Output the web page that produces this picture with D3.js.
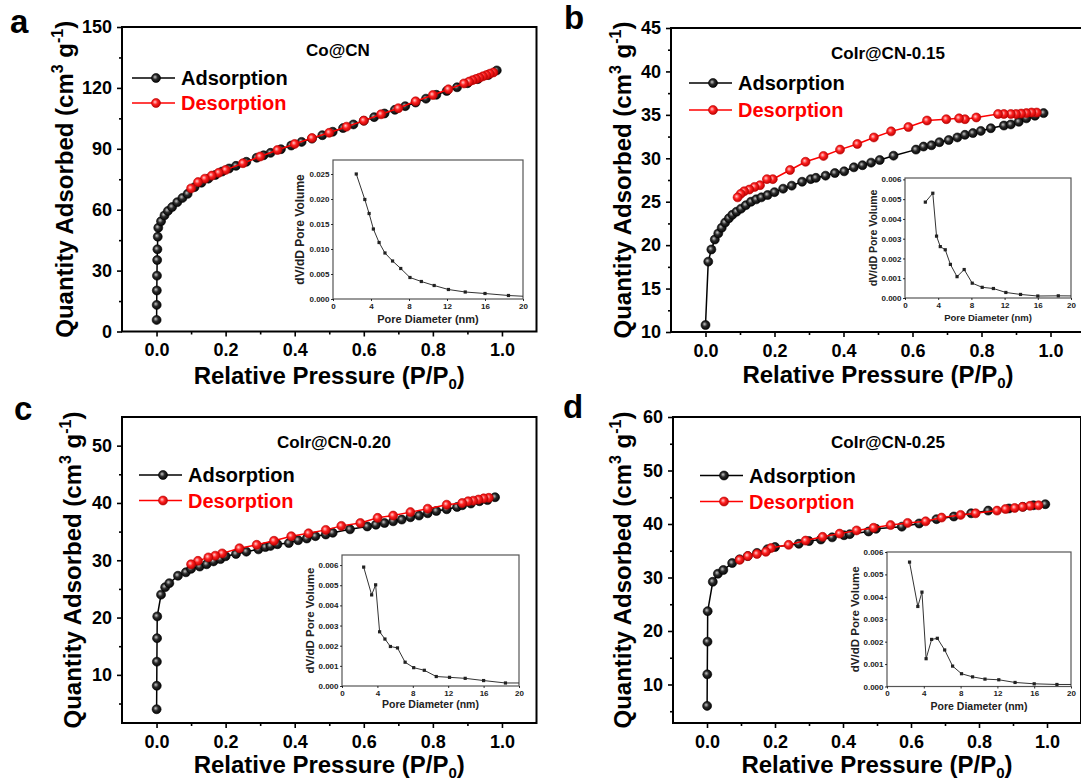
<!DOCTYPE html>
<html>
<head>
<meta charset="utf-8">
<script src="https://cdn.jsdelivr.net/npm/d3@7"></script>
<style>
  body { margin: 0; background: #fff; }
  svg { display: block; font-family: Arial, "Liberation Sans", sans-serif; }
</style>
</head>
<body>
<div id="chart"></div>
<script>
// ---- isotherm data (P/P0, cm3 g-1) ----
const adsA_P = [0.0002,0.0005,0.0008,0.0012,0.0018,0.0025,0.0035,0.005,0.013,0.023,0.033,0.045,0.06,0.075,0.09,0.11,0.13,0.15,0.17,0.19,0.21,0.23,0.26,0.29,0.31,0.33,0.36,0.39,0.42,0.45,0.48,0.51,0.54,0.57,0.6,0.63,0.66,0.69,0.72,0.75,0.78,0.81,0.84,0.87,0.9,0.93,0.96,0.985];
const adsA_Q = [5.7,13.1,20.2,27.5,35.2,40.5,46.7,51.1,54.3,57.2,59.4,61.3,63.7,65.8,67.8,71.1,73.3,75.3,77.1,78.8,80.3,81.6,83.6,85.6,86.8,88.0,89.8,91.6,93.4,95.0,96.7,98.4,100.2,102.0,103.8,105.6,107.4,109.2,111.0,112.8,114.7,116.6,118.5,120.3,122.3,124.3,126.3,128.6];
const desA_P = [0.975,0.965,0.955,0.945,0.935,0.925,0.915,0.905,0.89,0.845,0.8,0.75,0.7,0.65,0.6,0.55,0.5,0.45,0.4,0.35,0.3,0.25,0.2,0.18,0.16,0.14,0.12,0.1];
const desA_Q = [127.6,127.0,126.3,125.7,125.0,124.4,123.8,123.1,122.2,119.3,116.5,113.4,110.0,107.0,103.9,100.9,97.9,95.3,92.4,89.4,86.2,82.9,79.6,78.2,76.8,75.3,73.6,70.5];

const adsB_P = [0.0,0.008,0.017,0.027,0.037,0.047,0.057,0.068,0.078,0.09,0.103,0.117,0.132,0.147,0.162,0.18,0.2,0.225,0.25,0.28,0.305,0.32,0.348,0.375,0.402,0.43,0.455,0.48,0.505,0.545,0.61,0.632,0.655,0.678,0.705,0.73,0.752,0.775,0.798,0.827,0.865,0.885,0.908,0.93,0.955,0.98];
const adsB_Q = [10.8,18.1,19.5,20.65,21.35,22.0,22.6,23.1,23.5,23.85,24.2,24.6,25.0,25.27,25.5,25.77,26.1,26.5,26.85,27.3,27.6,27.75,28.0,28.3,28.5,28.96,29.2,29.5,29.8,30.3,31.0,31.35,31.5,31.85,32.1,32.4,32.7,32.9,33.15,33.46,33.77,33.9,34.2,34.6,34.9,35.2];
const desB_P = [0.96,0.945,0.93,0.915,0.9,0.885,0.865,0.848,0.785,0.752,0.735,0.698,0.642,0.588,0.538,0.488,0.44,0.39,0.342,0.29,0.245,0.195,0.178,0.158,0.142,0.127,0.112,0.102,0.093];
const desB_Q = [35.27,35.27,35.2,35.15,35.1,35.1,35.1,35.1,34.7,34.5,34.6,34.5,34.35,33.6,33.1,32.4,31.65,31.0,30.27,29.6,28.65,27.6,27.6,26.9,26.7,26.4,26.2,25.9,25.5];

const adsC_P = [0.0002,0.0006,0.001,0.0015,0.002,0.013,0.025,0.037,0.062,0.085,0.1,0.125,0.145,0.165,0.185,0.2,0.23,0.26,0.295,0.315,0.33,0.35,0.383,0.41,0.435,0.46,0.49,0.51,0.56,0.61,0.635,0.66,0.685,0.71,0.735,0.76,0.785,0.81,0.84,0.87,0.885,0.91,0.935,0.958,0.98];
const adsC_Q = [4.0,8.1,12.3,16.4,20.2,24.0,25.3,26.0,27.3,27.9,28.5,28.9,29.3,29.8,30.2,30.7,31.1,31.5,31.9,32.3,32.5,32.8,33.0,33.5,33.8,34.2,34.5,34.8,35.4,35.9,36.2,36.5,36.8,37.1,37.5,37.8,38.2,38.6,38.9,39.3,39.6,39.9,40.3,40.5,41.0];
const desC_P = [0.962,0.947,0.932,0.917,0.902,0.885,0.84,0.785,0.735,0.685,0.64,0.59,0.535,0.49,0.44,0.39,0.34,0.29,0.24,0.19,0.17,0.15,0.12,0.1];
const desC_Q = [40.9,40.8,40.6,40.4,40.3,40.0,39.7,39.0,38.4,37.8,37.4,36.5,36.0,35.3,34.7,34.2,33.4,32.7,32.1,31.2,30.8,30.5,29.9,29.3];

const adsD_P = [0.0003,0.0008,0.0015,0.002,0.017,0.032,0.048,0.074,0.096,0.12,0.147,0.178,0.2,0.27,0.3,0.335,0.368,0.403,0.42,0.475,0.497,0.573,0.624,0.675,0.726,0.777,0.827,0.888,0.929,0.96,0.995];
const adsD_Q = [6.0,11.9,18.0,23.7,29.2,30.7,31.4,32.7,33.4,34.0,34.6,35.3,35.7,36.3,36.8,37.1,37.5,37.9,38.1,38.6,39.1,39.5,40.1,40.9,41.4,42.0,42.5,42.9,43.2,43.5,43.7];
const desD_P = [0.975,0.95,0.928,0.905,0.878,0.853,0.79,0.746,0.69,0.643,0.59,0.54,0.49,0.44,0.39,0.34,0.29,0.24,0.188,0.173,0.147,0.12,0.096];
const desD_Q = [43.5,43.4,43.2,43.0,42.8,42.5,42.0,41.7,41.2,40.5,40.2,39.8,39.3,38.8,38.2,37.6,36.9,36.1,35.5,34.8,34.4,34.0,33.3];

// ---- pore size distributions (insets), last point lies past 20 nm and is clipped ----
const poreDiam = [2.45,3.35,3.8,4.25,4.85,5.47,6.27,7.13,8.1,9.3,10.65,12.15,13.92,16.0,18.47,21.6];
const psdA = [0.0250,0.0199,0.0171,0.0140,0.0113,0.0092,0.0076,0.0061,0.0043,0.0035,0.0027,0.0019,0.0014,0.0011,0.0007,0.0004];
const psdB = [0.00485,0.0053,0.00313,0.0026,0.00244,0.0017,0.00108,0.00144,0.00075,0.00054,0.00048,0.00028,0.00018,0.0001,0.00011,0.0001];
const psdC = [0.0059,0.00452,0.00502,0.00269,0.00233,0.00196,0.00189,0.00118,0.00091,0.00078,0.00047,0.00043,0.00038,0.00027,0.00015,0.00015];
const psdD = [0.00555,0.00357,0.00421,0.00124,0.0021,0.00215,0.00163,0.00091,0.00057,0.00043,0.00033,0.0003,0.00018,0.00012,0.00009,0.00009];

// ---- tick values ----
const xTicksMain = [0, 0.2, 0.4, 0.6, 0.8, 1.0];
const xMinorMain = [0.1, 0.3, 0.5, 0.7, 0.9];
const yTicksA = [0, 30, 60, 90, 120, 150], yMinorA = [15, 45, 75, 105, 135];
const yTicksB = [10, 15, 20, 25, 30, 35, 40, 45], yMinorB = [12.5, 17.5, 22.5, 27.5, 32.5, 37.5, 42.5];
const yTicksC = [10, 20, 30, 40, 50], yMinorC = [5, 15, 25, 35, 45];
const yTicksD = [10, 20, 30, 40, 50, 60], yMinorD = [5, 15, 25, 35, 45, 55];
const xTicksInset = [0, 4, 8, 12, 16, 20];
const yTicksInsetA = [0, 0.005, 0.010, 0.015, 0.020, 0.025];
const yTicksInsetB = [0, 0.001, 0.002, 0.003, 0.004, 0.005, 0.006];

const W = 1081, H = 782;
const svg = d3.select("#chart").append("svg")
  .attr("width", W)
  .attr("height", H);
const defs = svg.append("defs");

// shiny ball markers
function ball(id, hi, mid, lo) {
  const gr = defs.append("radialGradient").attr("id", id)
    .attr("cx", "45%").attr("cy", "45%").attr("r", "60%")
    .attr("fx", "38%").attr("fy", "38%");
  gr.append("stop").attr("offset", "0%").attr("stop-color", hi);
  gr.append("stop").attr("offset", "45%").attr("stop-color", mid);
  gr.append("stop").attr("offset", "100%").attr("stop-color", lo);
}
ball("ballBlack", "#c8c8c8", "#2a2a2a", "#000");
ball("ballRed", "#ffd0d0", "#ff2020", "#b00000");

const panels = [
  { letter: "a", lx: 10, ly: 33, name: "Co@CN", x0: 122, x1: 536.5, y0: 27, y1: 331.5, yDomain: [0, 150],
    yTicks: yTicksA, yMinor: yMinorA, yTitleX: 73, xTitleY: 384, titleX: 338, titleY: 56,
    legX: 132, legY1: 78, legY2: 103, ads: [adsA_P, adsA_Q], des: [desA_P, desA_Q],
    inset: { x0: 333, x1: 523, y0: 160, y1: 299, yDomain: [0, 0.0278], yTicks: yTicksInsetA, psd: psdA,
      tickFont: 8, titleFont: 11, yTitleX: 304, xTickY: 311, xTitleY: 323 } },
  { letter: "b", lx: 564, ly: 29, name: "CoIr@CN-0.15", x0: 671, x1: 1085, y0: 28, y1: 332, yDomain: [10, 45],
    yTicks: yTicksB, yMinor: yMinorB, yTitleX: 631, xTitleY: 383, titleX: 888, titleY: 59,
    legX: 689, legY1: 83, legY2: 110, ads: [adsB_P, adsB_Q], des: [desB_P, desB_Q],
    inset: { x0: 905, x1: 1071, y0: 178, y1: 298, yDomain: [0, 0.00607], yTicks: yTicksInsetB, psd: psdB,
      tickFont: 8, titleFont: 9.5, yTitleX: 877, xTickY: 309, xTitleY: 321 } },
  { letter: "c", lx: 14, ly: 420, name: "CoIr@CN-0.20", x0: 122, x1: 536.5, y0: 417, y1: 723, yDomain: [1.6, 55],
    yTicks: yTicksC, yMinor: yMinorC, yTitleX: 81, xTitleY: 773, titleX: 334, titleY: 448,
    legX: 139, legY1: 475, legY2: 500.5, ads: [adsC_P, adsC_Q], des: [desC_P, desC_Q],
    inset: { x0: 342, x1: 519, y0: 555, y1: 686, yDomain: [0, 0.0065], yTicks: yTicksInsetB, psd: psdC,
      tickFont: 8, titleFont: 10.5, yTitleX: 314, xTickY: 696, xTitleY: 708 } },
  { letter: "d", lx: 563, ly: 418, name: "CoIr@CN-0.25", x0: 673, x1: 1081, y0: 417, y1: 723, yDomain: [2.8, 60],
    yTicks: yTicksD, yMinor: yMinorD, yTitleX: 631, xTitleY: 773, titleX: 888, titleY: 448,
    legX: 700, legY1: 475.5, legY2: 501.5, ads: [adsD_P, adsD_Q], des: [desD_P, desD_Q],
    inset: { x0: 887, x1: 1071, y0: 552, y1: 686.5, yDomain: [0, 0.006], yTicks: yTicksInsetB, psd: psdD,
      tickFont: 8, titleFont: 10.5, yTitleX: 859, xTickY: 699, xTitleY: 710 } }
];

function styleAxis(sel, size, bold, width) {
  sel.attr("font-family", null).attr("font-size", null);
  sel.select(".domain").remove();
  sel.selectAll(".tick line").attr("stroke", "#000").attr("stroke-width", width);
  sel.selectAll(".tick text")
    .attr("fill", "#000")
    .style("font-size", size + "px")
    .style("font-weight", bold ? "bold" : "normal");
}

function drawPanel(p) {
  const g = svg.append("g");
  const x = d3.scaleLinear().domain([-0.1, 1.1]).range([p.x0, p.x1]);
  const y = d3.scaleLinear().domain(p.yDomain).range([p.y1, p.y0]);

  // axes (major + minor ticks, outward)
  g.append("g").attr("transform", `translate(0,${p.y1})`)
    .call(d3.axisBottom(x).tickValues(xTicksMain).tickSize(5).tickPadding(7).tickFormat(d3.format(".1f")))
    .call(s => styleAxis(s, 18, true, 1.6));
  g.append("g").attr("transform", `translate(0,${p.y1})`)
    .call(d3.axisBottom(x).tickValues(xMinorMain).tickSize(3).tickFormat(""))
    .call(s => styleAxis(s, 18, true, 1.6));
  g.append("g").attr("transform", `translate(${p.x0},0)`)
    .call(d3.axisLeft(y).tickValues(p.yTicks).tickSize(5).tickPadding(5).tickFormat(d3.format("d")))
    .call(s => styleAxis(s, 18, true, 1.6));
  g.append("g").attr("transform", `translate(${p.x0},0)`)
    .call(d3.axisLeft(y).tickValues(p.yMinor).tickSize(3).tickFormat(""))
    .call(s => styleAxis(s, 18, true, 1.6));

  // frame
  g.append("rect")
    .attr("x", p.x0).attr("y", p.y0)
    .attr("width", p.x1 - p.x0).attr("height", p.y1 - p.y0)
    .attr("fill", "none").attr("stroke", "#000").attr("stroke-width", 2);

  const line = d3.line().x(d => x(d[0])).y(d => y(d[1]));
  const series = [
    { pts: d3.zip(p.ads[0], p.ads[1]), color: "#000", ball: "url(#ballBlack)", edge: "#000" },
    { pts: d3.zip(p.des[0], p.des[1]), color: "#ff0000", ball: "url(#ballRed)", edge: "#c00000" }
  ];
  series.forEach(s => {
    g.append("path").datum(s.pts)
      .attr("d", line)
      .attr("fill", "none")
      .attr("stroke", s.color)
      .attr("stroke-width", 1.5);
    g.selectAll(null).data(s.pts).join("circle")
      .attr("cx", d => x(d[0]))
      .attr("cy", d => y(d[1]))
      .attr("r", 4.5)
      .attr("fill", s.ball)
      .attr("stroke", s.edge)
      .attr("stroke-width", 0.6);
  });

  // legend
  [{ label: "Adsorption", ly: p.legY1, s: series[0] }, { label: "Desorption", ly: p.legY2, s: series[1] }].forEach(l => {
    g.append("line")
      .attr("x1", p.legX).attr("x2", p.legX + 43)
      .attr("y1", l.ly).attr("y2", l.ly)
      .attr("stroke", l.s.color).attr("stroke-width", 1.5);
    g.append("circle")
      .attr("cx", p.legX + 24).attr("cy", l.ly).attr("r", 4.5)
      .attr("fill", l.s.ball).attr("stroke", l.s.edge).attr("stroke-width", 0.6);
    g.append("text")
      .attr("x", p.legX + 49).attr("y", l.ly + 7)
      .attr("fill", l.s.color)
      .style("font-size", "20px").style("font-weight", "bold")
      .text(l.label);
  });

  // sample name
  g.append("text")
    .attr("x", p.titleX).attr("y", p.titleY)
    .attr("text-anchor", "middle")
    .style("font-size", "17px").style("font-weight", "bold")
    .text(p.name);

  // axis titles
  const yt = g.append("text")
    .attr("transform", `translate(${p.yTitleX},${(p.y0 + p.y1) / 2}) rotate(-90)`)
    .attr("text-anchor", "middle")
    .style("font-size", "24px").style("font-weight", "bold");
  yt.append("tspan").text("Quantity Adsorbed (cm");
  yt.append("tspan").attr("dy", -10).style("font-size", "16px").text("3");
  yt.append("tspan").attr("dy", 10).text(" g");
  yt.append("tspan").attr("dy", -10).style("font-size", "16px").text("-1");
  yt.append("tspan").attr("dy", 10).text(")");

  const xt = g.append("text")
    .attr("x", (p.x0 + p.x1) / 2).attr("y", p.xTitleY)
    .attr("text-anchor", "middle")
    .style("font-size", "24px").style("font-weight", "bold");
  xt.append("tspan").text("Relative Pressure (P/P");
  xt.append("tspan").attr("dy", 5).style("font-size", "15px").text("0");
  xt.append("tspan").attr("dy", -5).text(")");

  // panel letter
  svg.append("text")
    .attr("x", p.lx).attr("y", p.ly)
    .style("font-size", "33px").style("font-weight", "bold")
    .text(p.letter);

  drawInset(p.inset, p.letter);
}

function drawInset(q, key) {
  const g = svg.append("g");
  const x = d3.scaleLinear().domain([0, 20]).range([q.x0, q.x1]);
  const y = d3.scaleLinear().domain(q.yDomain).range([q.y1, q.y0]);

  g.append("rect")
    .attr("x", q.x0).attr("y", q.y0)
    .attr("width", q.x1 - q.x0).attr("height", q.y1 - q.y0)
    .attr("fill", "#fff").attr("stroke", "#555").attr("stroke-width", 1.2);

  g.append("g").attr("transform", `translate(0,${q.y1})`)
    .call(d3.axisBottom(x).tickValues(xTicksInset).tickSize(2).tickPadding(2).tickFormat(d3.format("d")))
    .call(s => styleAxis(s, q.tickFont, true, 0.8));
  g.append("g").attr("transform", `translate(${q.x0},0)`)
    .call(d3.axisLeft(y).tickValues(q.yTicks).tickSize(2).tickPadding(1.5).tickFormat(d3.format(".3f")))
    .call(s => styleAxis(s, q.tickFont, true, 0.8));
  g.selectAll(".tick text").attr("fill", "#222");

  const clipId = "clip-" + key;
  defs.append("clipPath").attr("id", clipId)
    .append("rect")
    .attr("x", q.x0).attr("y", q.y0)
    .attr("width", q.x1 - q.x0).attr("height", q.y1 - q.y0);

  const pts = d3.zip(poreDiam, q.psd);
  const plot = g.append("g").attr("clip-path", `url(#${clipId})`);
  plot.append("path").datum(pts)
    .attr("d", d3.line().x(d => x(d[0])).y(d => y(d[1])))
    .attr("fill", "none").attr("stroke", "#333").attr("stroke-width", 1);
  plot.selectAll(null).data(pts).join("rect")
    .attr("x", d => x(d[0]) - 1.6)
    .attr("y", d => y(d[1]) - 1.6)
    .attr("width", 3.2).attr("height", 3.2)
    .attr("fill", "#222");

  g.append("text")
    .attr("transform", `translate(${q.yTitleX},${(q.y0 + q.y1) / 2}) rotate(-90)`)
    .attr("text-anchor", "middle")
    .attr("fill", "#222")
    .style("font-size", (q.titleFont + 1) + "px").style("font-weight", "bold")
    .text("dV/dD Pore Volume");
  g.append("text")
    .attr("x", (q.x0 + q.x1) / 2).attr("y", q.xTitleY)
    .attr("text-anchor", "middle")
    .attr("fill", "#222")
    .style("font-size", q.titleFont + "px").style("font-weight", "bold")
    .text("Pore Diameter (nm)");
}

panels.forEach(drawPanel);
</script>
</body>
</html>
